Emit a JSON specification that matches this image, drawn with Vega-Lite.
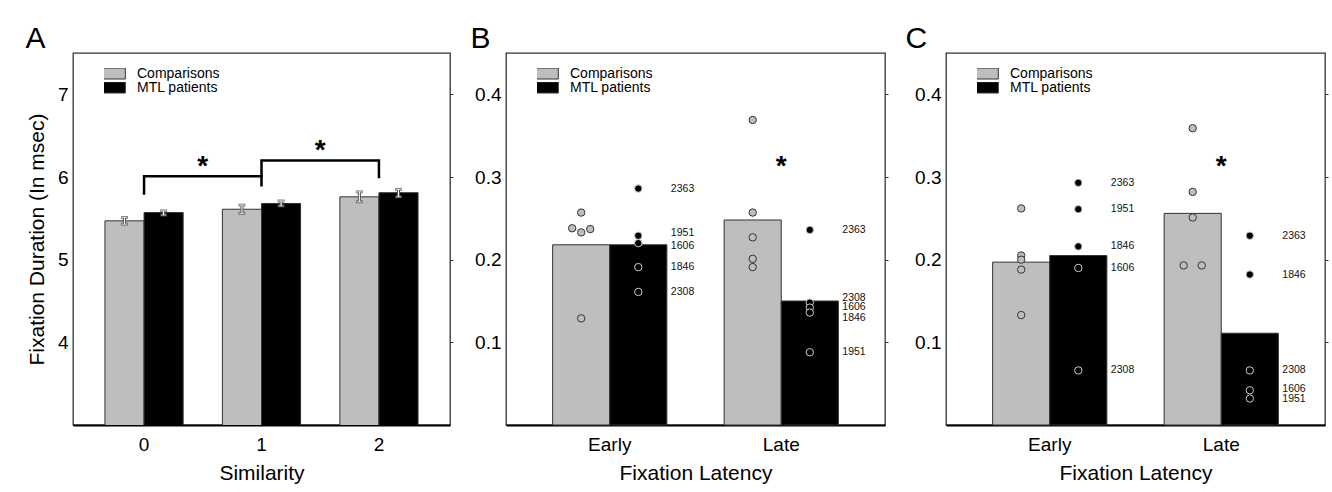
{
  "$schema": "https://vega.github.io/schema/vega-lite/v6.json",
  "background": "white",
  "padding": {"left": 24, "top": 23, "right": 5, "bottom": 5},
  "config": {
    "font": "Liberation Sans",
    "view": {"stroke": "#333", "strokeWidth": 1.3},
    "axis": {"labelFont": "Liberation Sans", "titleFont": "Liberation Sans", "labelFontSize": 19, "titleFontSize": 21, "titleFontWeight": "normal", "labelColor": "#000", "titleColor": "#000", "grid": false},
    "title": {"font": "Liberation Sans", "fontSize": 30, "fontWeight": "normal", "anchor": "start", "frame": "bounds", "offset": -1, "color": "#000", "baseline": "alphabetic"},
    "legend": {"orient": "none", "legendX": 31, "legendY": 15, "symbolType": "M-2.6,-1H2.6V1H-2.6Z", "symbolSize": 121, "symbolStrokeColor": "#333", "symbolStrokeWidth": 1, "symbolOpacity": 1, "labelFont": "Liberation Sans", "labelFontSize": 14, "labelColor": "#000", "labelOffset": 19}
  },
  "datasets": {
    "a": [
      {"sim": "0", "group": "Comparisons", "mean": 5.47, "lo": 5.43, "hi": 5.51},
      {"sim": "0", "group": "MTL patients", "mean": 5.57, "lo": 5.54, "hi": 5.59},
      {"sim": "1", "group": "Comparisons", "mean": 5.61, "lo": 5.56, "hi": 5.66},
      {"sim": "1", "group": "MTL patients", "mean": 5.68, "lo": 5.65, "hi": 5.71},
      {"sim": "2", "group": "Comparisons", "mean": 5.76, "lo": 5.70, "hi": 5.82},
      {"sim": "2", "group": "MTL patients", "mean": 5.81, "lo": 5.76, "hi": 5.85}
    ],
    "aBrackets": [
      {"br": 1, "ord": 1, "s": 0, "v": 5.80},
      {"br": 1, "ord": 2, "s": 0, "v": 6.01},
      {"br": 1, "ord": 3, "s": 1, "v": 6.01},
      {"br": 2, "ord": 1, "s": 1, "v": 5.90},
      {"br": 2, "ord": 2, "s": 1, "v": 6.20},
      {"br": 2, "ord": 3, "s": 2, "v": 6.20},
      {"br": 2, "ord": 4, "s": 2, "v": 6.00}
    ],
    "aStars": [
      {"s": 0.5, "v": 6.19},
      {"s": 1.5, "v": 6.39}
    ],
    "bBars": [
      {"lat": "Early", "group": "Comparisons", "mean": 0.218},
      {"lat": "Early", "group": "MTL patients", "mean": 0.218},
      {"lat": "Late", "group": "Comparisons", "mean": 0.248},
      {"lat": "Late", "group": "MTL patients", "mean": 0.150}
    ],
    "bDots": [
      {"lat": "Early", "group": "Comparisons", "val": 0.257, "jit": "c"},
      {"lat": "Early", "group": "Comparisons", "val": 0.238, "jit": "l"},
      {"lat": "Early", "group": "Comparisons", "val": 0.233, "jit": "c"},
      {"lat": "Early", "group": "Comparisons", "val": 0.237, "jit": "r"},
      {"lat": "Early", "group": "Comparisons", "val": 0.129, "jit": "c"},
      {"lat": "Late", "group": "Comparisons", "val": 0.369, "jit": "c"},
      {"lat": "Late", "group": "Comparisons", "val": 0.257, "jit": "c"},
      {"lat": "Late", "group": "Comparisons", "val": 0.227, "jit": "c"},
      {"lat": "Late", "group": "Comparisons", "val": 0.201, "jit": "c"},
      {"lat": "Late", "group": "Comparisons", "val": 0.191, "jit": "c"},
      {"lat": "Early", "group": "MTL patients", "subj": "2363", "val": 0.286, "labAt": 0.286, "jit": "c"},
      {"lat": "Early", "group": "MTL patients", "subj": "1951", "val": 0.229, "labAt": 0.232, "jit": "c"},
      {"lat": "Early", "group": "MTL patients", "subj": "1606", "val": 0.220, "labAt": 0.216, "jit": "c"},
      {"lat": "Early", "group": "MTL patients", "subj": "1846", "val": 0.191, "labAt": 0.191, "jit": "c"},
      {"lat": "Early", "group": "MTL patients", "subj": "2308", "val": 0.161, "labAt": 0.161, "jit": "c"},
      {"lat": "Late", "group": "MTL patients", "subj": "2363", "val": 0.236, "labAt": 0.236, "jit": "c"},
      {"lat": "Late", "group": "MTL patients", "subj": "2308", "val": 0.148, "labAt": 0.154, "jit": "c"},
      {"lat": "Late", "group": "MTL patients", "subj": "1606", "val": 0.142, "labAt": 0.143, "jit": "c"},
      {"lat": "Late", "group": "MTL patients", "subj": "1846", "val": 0.136, "labAt": 0.129, "jit": "c"},
      {"lat": "Late", "group": "MTL patients", "subj": "1951", "val": 0.088, "labAt": 0.088, "jit": "c"}
    ],
    "bStar": [{"lat": "Late", "v": 0.319}],
    "cBars": [
      {"lat": "Early", "group": "Comparisons", "mean": 0.197},
      {"lat": "Early", "group": "MTL patients", "mean": 0.205},
      {"lat": "Late", "group": "Comparisons", "mean": 0.256},
      {"lat": "Late", "group": "MTL patients", "mean": 0.111}
    ],
    "cDots": [
      {"lat": "Early", "group": "Comparisons", "val": 0.262, "jit": "c"},
      {"lat": "Early", "group": "Comparisons", "val": 0.205, "jit": "c"},
      {"lat": "Early", "group": "Comparisons", "val": 0.200, "jit": "c"},
      {"lat": "Early", "group": "Comparisons", "val": 0.188, "jit": "c"},
      {"lat": "Early", "group": "Comparisons", "val": 0.133, "jit": "c"},
      {"lat": "Late", "group": "Comparisons", "val": 0.359, "jit": "c"},
      {"lat": "Late", "group": "Comparisons", "val": 0.282, "jit": "c"},
      {"lat": "Late", "group": "Comparisons", "val": 0.251, "jit": "c"},
      {"lat": "Late", "group": "Comparisons", "val": 0.193, "jit": "l"},
      {"lat": "Late", "group": "Comparisons", "val": 0.193, "jit": "r"},
      {"lat": "Early", "group": "MTL patients", "subj": "2363", "val": 0.293, "labAt": 0.293, "jit": "c"},
      {"lat": "Early", "group": "MTL patients", "subj": "1951", "val": 0.261, "labAt": 0.261, "jit": "c"},
      {"lat": "Early", "group": "MTL patients", "subj": "1846", "val": 0.216, "labAt": 0.216, "jit": "c"},
      {"lat": "Early", "group": "MTL patients", "subj": "1606", "val": 0.190, "labAt": 0.190, "jit": "c"},
      {"lat": "Early", "group": "MTL patients", "subj": "2308", "val": 0.066, "labAt": 0.066, "jit": "c"},
      {"lat": "Late", "group": "MTL patients", "subj": "2363", "val": 0.229, "labAt": 0.229, "jit": "c"},
      {"lat": "Late", "group": "MTL patients", "subj": "1846", "val": 0.182, "labAt": 0.182, "jit": "c"},
      {"lat": "Late", "group": "MTL patients", "subj": "2308", "val": 0.066, "labAt": 0.066, "jit": "c"},
      {"lat": "Late", "group": "MTL patients", "subj": "1606", "val": 0.042, "labAt": 0.043, "jit": "c"},
      {"lat": "Late", "group": "MTL patients", "subj": "1951", "val": 0.032, "labAt": 0.032, "jit": "c"}
    ],
    "cStar": [{"lat": "Late", "v": 0.319}]
  },
  "spacing": 14,
  "resolve": {"scale": {"color": "independent", "x": "independent", "y": "independent", "xOffset": "independent"}, "legend": {"color": "independent"}},
  "hconcat": [
    {
      "title": {"text": "A", "dx": -1},
      "width": 377,
      "height": 372,
      "resolve": {"scale": {"x": "independent", "y": "independent"}},
      "layer": [
        {
          "data": {"name": "a"},
          "layer": [
            {
              "mark": {"type": "bar", "stroke": "#333", "strokeWidth": 1, "clip": true},
              "encoding": {
                "x": {"field": "sim", "type": "nominal", "scale": {"paddingInner": 0.334, "paddingOuter": 0.272}, "axis": {"title": "Similarity", "labelAngle": 0, "ticks": false, "domainColor": "#000", "domainWidth": 2, "labelPadding": 10, "titlePadding": 8}},
                "xOffset": {"field": "group", "type": "nominal", "sort": ["Comparisons", "MTL patients"], "scale": {"paddingInner": 0, "paddingOuter": 0}},
                "y": {"field": "mean", "type": "quantitative", "scale": {"domain": [3, 7.5], "zero": false, "nice": false}, "axis": {"title": "Fixation Duration (In msec)", "values": [4, 5, 6, 7], "format": "d", "ticks": false, "domain": false, "labelPadding": 5, "titlePadding": 10}},
                "color": {"field": "group", "type": "nominal", "scale": {"domain": ["Comparisons", "MTL patients"], "range": ["#bebebe", "#000000"]}, "legend": {"title": null, "clipHeight": 11, "rowPadding": -1}}
              }
            },
            {
              "mark": {"type": "rule", "color": "#555", "strokeWidth": 3},
              "encoding": {
                "x": {"field": "sim", "type": "nominal"},
                "xOffset": {"field": "group", "type": "nominal", "sort": ["Comparisons", "MTL patients"]},
                "y": {"field": "lo", "type": "quantitative"},
                "y2": {"field": "hi"}
              }
            },
            {
              "mark": {"type": "tick", "orient": "horizontal", "color": "#555", "size": 7, "thickness": 3},
              "encoding": {
                "x": {"field": "sim", "type": "nominal"},
                "xOffset": {"field": "group", "type": "nominal", "sort": ["Comparisons", "MTL patients"]},
                "y": {"field": "hi", "type": "quantitative"}
              }
            },
            {
              "mark": {"type": "tick", "orient": "horizontal", "color": "#555", "size": 7, "thickness": 3},
              "encoding": {
                "x": {"field": "sim", "type": "nominal"},
                "xOffset": {"field": "group", "type": "nominal", "sort": ["Comparisons", "MTL patients"]},
                "y": {"field": "lo", "type": "quantitative"}
              }
            },
            {
              "mark": {"type": "rule", "color": "#ffffff", "strokeWidth": 1},
              "encoding": {
                "x": {"field": "sim", "type": "nominal"},
                "xOffset": {"field": "group", "type": "nominal", "sort": ["Comparisons", "MTL patients"]},
                "y": {"field": "lo", "type": "quantitative"},
                "y2": {"field": "hi"}
              }
            },
            {
              "mark": {"type": "tick", "orient": "horizontal", "color": "#ffffff", "size": 5, "thickness": 1},
              "encoding": {
                "x": {"field": "sim", "type": "nominal"},
                "xOffset": {"field": "group", "type": "nominal", "sort": ["Comparisons", "MTL patients"]},
                "y": {"field": "hi", "type": "quantitative"}
              }
            },
            {
              "mark": {"type": "tick", "orient": "horizontal", "color": "#ffffff", "size": 5, "thickness": 1},
              "encoding": {
                "x": {"field": "sim", "type": "nominal"},
                "xOffset": {"field": "group", "type": "nominal", "sort": ["Comparisons", "MTL patients"]},
                "y": {"field": "lo", "type": "quantitative"}
              }
            }
          ]
        },
        {
          "layer": [
            {
              "data": {"name": "aBrackets"},
              "mark": {"type": "line", "color": "#000", "strokeWidth": 2.5, "strokeJoin": "miter", "strokeCap": "square"},
              "encoding": {
                "x": {"field": "s", "type": "quantitative", "scale": {"domain": [-0.605, 2.605], "nice": false, "zero": false}, "axis": null},
                "y": {"field": "v", "type": "quantitative", "scale": {"domain": [3, 7.5], "zero": false, "nice": false}, "axis": {"orient": "right", "values": [4, 5, 6, 7], "labels": false, "domain": false, "ticks": true, "tickSize": 3, "tickColor": "#333", "title": null}},
                "detail": {"field": "br", "type": "nominal"},
                "order": {"field": "ord", "type": "quantitative"}
              }
            },
            {
              "data": {"name": "aStars"},
              "mark": {"type": "text", "text": "*", "fontSize": 28, "fontWeight": "bold", "baseline": "alphabetic", "dy": 14, "color": "#000"},
              "encoding": {
                "x": {"field": "s", "type": "quantitative", "axis": null},
                "y": {"field": "v", "type": "quantitative"}
              }
            }
          ]
        }
      ]
    },
    {
      "title": {"text": "B", "dx": -4},
      "width": 379,
      "height": 372,
      "resolve": {"scale": {"y": "independent"}},
      "layer": [
        {
          "layer": [
            {
              "data": {"name": "bBars"},
              "mark": {"type": "bar", "stroke": "#333", "strokeWidth": 1},
              "encoding": {
                "x": {"field": "lat", "type": "nominal", "sort": ["Early", "Late"], "scale": {"paddingInner": 0.334, "paddingOuter": 0.272}, "axis": {"title": "Fixation Latency", "labelAngle": 0, "ticks": false, "domainColor": "#000", "domainWidth": 2, "labelPadding": 10, "titlePadding": 8}},
                "xOffset": {"field": "group", "type": "nominal", "sort": ["Comparisons", "MTL patients"], "scale": {"paddingInner": 0, "paddingOuter": 0}},
                "y": {"field": "mean", "type": "quantitative", "scale": {"domain": [0, 0.45], "nice": false}, "axis": {"title": null, "values": [0.1, 0.2, 0.3, 0.4], "format": ".1f", "ticks": false, "domain": false, "labelPadding": 5}},
                "color": {"field": "group", "type": "nominal", "scale": {"domain": ["Comparisons", "MTL patients"], "range": ["#bebebe", "#000000"]}, "legend": {"title": null, "clipHeight": 11, "rowPadding": -1}}
              }
            },
            {
              "data": {"name": "bDots"},
              "transform": [{"filter": "datum.group == 'Comparisons' && datum.jit == 'c'"}],
              "mark": {"type": "circle", "fill": "#bebebe", "stroke": "#333", "strokeWidth": 1, "size": 55, "opacity": 1},
              "encoding": {
                "x": {"field": "lat", "type": "nominal", "sort": ["Early", "Late"], "bandPosition": 0.25},
                "y": {"field": "val", "type": "quantitative"}
              }
            },
            {
              "data": {"name": "bDots"},
              "transform": [{"filter": "datum.group == 'Comparisons' && datum.jit == 'l'"}],
              "mark": {"type": "circle", "fill": "#bebebe", "stroke": "#333", "strokeWidth": 1, "size": 55, "opacity": 1},
              "encoding": {
                "x": {"field": "lat", "type": "nominal", "sort": ["Early", "Late"], "bandPosition": 0.171},
                "y": {"field": "val", "type": "quantitative"}
              }
            },
            {
              "data": {"name": "bDots"},
              "transform": [{"filter": "datum.group == 'Comparisons' && datum.jit == 'r'"}],
              "mark": {"type": "circle", "fill": "#bebebe", "stroke": "#333", "strokeWidth": 1, "size": 55, "opacity": 1},
              "encoding": {
                "x": {"field": "lat", "type": "nominal", "sort": ["Early", "Late"], "bandPosition": 0.329},
                "y": {"field": "val", "type": "quantitative"}
              }
            },
            {
              "data": {"name": "bDots"},
              "transform": [{"filter": "datum.group == 'MTL patients'"}],
              "mark": {"type": "circle", "fill": "#000000", "stroke": "#cccccc", "strokeWidth": 1, "size": 55, "opacity": 1},
              "encoding": {
                "x": {"field": "lat", "type": "nominal", "sort": ["Early", "Late"], "bandPosition": 0.75},
                "y": {"field": "val", "type": "quantitative"}
              }
            },
            {
              "data": {"name": "bDots"},
              "transform": [{"filter": "datum.group == 'MTL patients'"}],
              "mark": {"type": "text", "align": "left", "baseline": "middle", "dx": 4, "fontSize": 10.5, "color": "#111"},
              "encoding": {
                "x": {"field": "lat", "type": "nominal", "sort": ["Early", "Late"], "bandPosition": 1},
                "y": {"field": "labAt", "type": "quantitative"},
                "text": {"field": "subj"}
              }
            }
          ]
        },
        {
          "data": {"name": "bStar"},
          "mark": {"type": "text", "text": "*", "fontSize": 28, "fontWeight": "bold", "baseline": "alphabetic", "dy": 14, "color": "#000"},
          "encoding": {
            "x": {"field": "lat", "type": "nominal", "sort": ["Early", "Late"]},
            "y": {"field": "v", "type": "quantitative", "scale": {"domain": [0, 0.45], "nice": false}, "axis": {"orient": "right", "values": [0.1, 0.2, 0.3, 0.4], "labels": false, "domain": false, "ticks": true, "tickSize": 3, "tickColor": "#333", "title": null}}
          }
        }
      ]
    },
    {
      "title": {"text": "C", "dx": -9},
      "width": 379,
      "height": 372,
      "resolve": {"scale": {"y": "independent"}},
      "layer": [
        {
          "layer": [
            {
              "data": {"name": "cBars"},
              "mark": {"type": "bar", "stroke": "#333", "strokeWidth": 1},
              "encoding": {
                "x": {"field": "lat", "type": "nominal", "sort": ["Early", "Late"], "scale": {"paddingInner": 0.334, "paddingOuter": 0.272}, "axis": {"title": "Fixation Latency", "labelAngle": 0, "ticks": false, "domainColor": "#000", "domainWidth": 2, "labelPadding": 10, "titlePadding": 8}},
                "xOffset": {"field": "group", "type": "nominal", "sort": ["Comparisons", "MTL patients"], "scale": {"paddingInner": 0, "paddingOuter": 0}},
                "y": {"field": "mean", "type": "quantitative", "scale": {"domain": [0, 0.45], "nice": false}, "axis": {"title": null, "values": [0.1, 0.2, 0.3, 0.4], "format": ".1f", "ticks": false, "domain": false, "labelPadding": 5}},
                "color": {"field": "group", "type": "nominal", "scale": {"domain": ["Comparisons", "MTL patients"], "range": ["#bebebe", "#000000"]}, "legend": {"title": null, "clipHeight": 11, "rowPadding": -1}}
              }
            },
            {
              "data": {"name": "cDots"},
              "transform": [{"filter": "datum.group == 'Comparisons' && datum.jit == 'c'"}],
              "mark": {"type": "circle", "fill": "#bebebe", "stroke": "#333", "strokeWidth": 1, "size": 55, "opacity": 1},
              "encoding": {
                "x": {"field": "lat", "type": "nominal", "sort": ["Early", "Late"], "bandPosition": 0.25},
                "y": {"field": "val", "type": "quantitative"}
              }
            },
            {
              "data": {"name": "cDots"},
              "transform": [{"filter": "datum.group == 'Comparisons' && datum.jit == 'l'"}],
              "mark": {"type": "circle", "fill": "#bebebe", "stroke": "#333", "strokeWidth": 1, "size": 55, "opacity": 1},
              "encoding": {
                "x": {"field": "lat", "type": "nominal", "sort": ["Early", "Late"], "bandPosition": 0.171},
                "y": {"field": "val", "type": "quantitative"}
              }
            },
            {
              "data": {"name": "cDots"},
              "transform": [{"filter": "datum.group == 'Comparisons' && datum.jit == 'r'"}],
              "mark": {"type": "circle", "fill": "#bebebe", "stroke": "#333", "strokeWidth": 1, "size": 55, "opacity": 1},
              "encoding": {
                "x": {"field": "lat", "type": "nominal", "sort": ["Early", "Late"], "bandPosition": 0.329},
                "y": {"field": "val", "type": "quantitative"}
              }
            },
            {
              "data": {"name": "cDots"},
              "transform": [{"filter": "datum.group == 'MTL patients'"}],
              "mark": {"type": "circle", "fill": "#000000", "stroke": "#cccccc", "strokeWidth": 1, "size": 55, "opacity": 1},
              "encoding": {
                "x": {"field": "lat", "type": "nominal", "sort": ["Early", "Late"], "bandPosition": 0.75},
                "y": {"field": "val", "type": "quantitative"}
              }
            },
            {
              "data": {"name": "cDots"},
              "transform": [{"filter": "datum.group == 'MTL patients'"}],
              "mark": {"type": "text", "align": "left", "baseline": "middle", "dx": 4, "fontSize": 10.5, "color": "#111"},
              "encoding": {
                "x": {"field": "lat", "type": "nominal", "sort": ["Early", "Late"], "bandPosition": 1},
                "y": {"field": "labAt", "type": "quantitative"},
                "text": {"field": "subj"}
              }
            }
          ]
        },
        {
          "data": {"name": "cStar"},
          "mark": {"type": "text", "text": "*", "fontSize": 28, "fontWeight": "bold", "baseline": "alphabetic", "dy": 14, "color": "#000"},
          "encoding": {
            "x": {"field": "lat", "type": "nominal", "sort": ["Early", "Late"]},
            "y": {"field": "v", "type": "quantitative", "scale": {"domain": [0, 0.45], "nice": false}, "axis": {"orient": "right", "values": [0.1, 0.2, 0.3, 0.4], "labels": false, "domain": false, "ticks": true, "tickSize": 3, "tickColor": "#333", "title": null}}
          }
        }
      ]
    }
  ]
}
